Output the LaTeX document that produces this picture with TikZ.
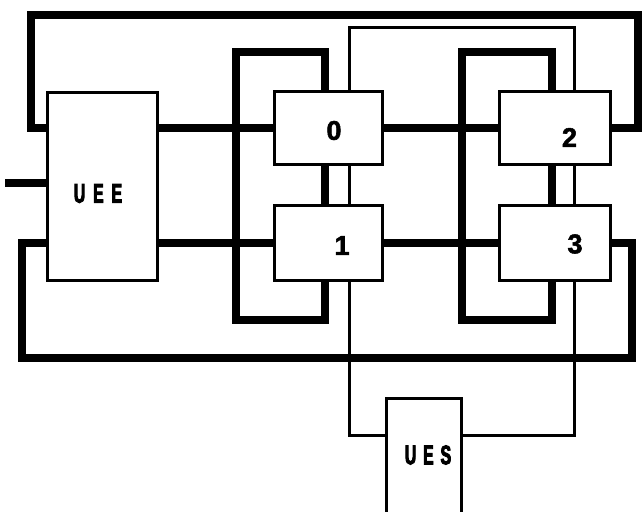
\documentclass[tikz,border=0pt]{standalone}
\usepackage{fontspec}
\setmainfont{Liberation Sans}[FakeBold=2]
\newfontfamily\narrowfont{Liberation Sans}[FakeStretch=0.58,FakeBold=3.5]
\usetikzlibrary{positioning,calc,backgrounds}
\tikzset{
  unit/.style={draw,line width=3pt,fill=white,inner sep=0pt},
  bus/.style={line width=8.5pt},
  wire/.style={line width=3pt},
  num/.style={font=\fontsize{27}{27}\selectfont\bfseries,inner sep=0pt},
  word/.style={font=\narrowfont\fontsize{27}{27}\selectfont\bfseries,inner sep=0pt},
}

\begin{document}
\begin{tikzpicture}[x=1pt,y=-1pt]
\path[clip,use as bounding box] (0,0) rectangle (642,511);
% units
\node[unit,minimum width=110pt,minimum height=188pt] (uee) at (102.5,186.5) {};
\node[unit,minimum width=108pt,minimum height=73pt] (b0) at (328.5,128) {};
\node[unit,minimum width=108pt,minimum height=75pt] (b1) at (328.5,243) {};
\node[unit,minimum width=111pt,minimum height=73pt] (b2) at (555,128) {};
\node[unit,minimum width=111pt,minimum height=75pt] (b3) at (555,243) {};
\node[unit,minimum width=75pt,minimum height=150pt] (ues) at (423.5,473) {};
\node[word] (tuee) at (98,193.5) {U\kern8pt E\kern8pt E};
\node[word] (tues) at (428,455) {U\kern7pt E\kern7pt S};
\node[num] (t0) at (334,130.5) {0};
\node[num] (t1) at (342,245.5) {1};
\node[num] (t2) at (569.5,137.5) {2};
\node[num] (t3) at (575,244) {3};
% wire columns and rows
\coordinate (in) at (5,183);
\coordinate (xo) at (31,0);
\coordinate (xo2) at (22,0);
\coordinate (xl) at (236,0);
\coordinate (xa) at (325,0);
\coordinate (xb) at (349,0);
\coordinate (xr) at (462,0);
\coordinate (xc) at (552,0);
\coordinate (xd) at (574,0);
\coordinate (xe2) at (632,0);
\coordinate (xe) at (638,0);
\coordinate (yt) at (0,15);
\coordinate (yu) at (0,28);
\coordinate (yl) at (0,52);
\coordinate (yb) at (0,320);
\coordinate (ybot) at (0,358);
\coordinate (yues) at (0,435);
\begin{scope}[on background layer]
% buses
\draw[bus] (in) -- (in -| uee.west);
\draw[bus] (uee.east |- b0) -- (b0.west);
\draw[bus] (uee.east |- b1) -- (b1.west);
\draw[bus] (b0.east) -- (b2.west);
\draw[bus] (b1.east) -- (b3.west);
\draw[bus] (b0.south -| xa) -- (b1.north -| xa);
\draw[bus] (b2.south -| xc) -- (b3.north -| xc);
\draw[bus] (b0.north -| xa) -- (xa |- yl) -- (xl |- yl) -- (xl |- yb) -- (xa |- yb) -- (b1.south -| xa);
\draw[bus] (b2.north -| xc) -- (xc |- yl) -- (xr |- yl) -- (xr |- yb) -- (xc |- yb) -- (b3.south -| xc);
\draw[bus] (b2.east) -- (xe |- b2) -- (xe |- yt) -- (xo |- yt) -- (xo |- b0) -- (uee.west |- b0);
\draw[bus] (b3.east) -- (xe2 |- b3) -- (xe2 |- ybot) -- (xo2 |- ybot) -- (xo2 |- b3) -- (uee.west |- b3);
% single lines
\draw[wire] (b0.south -| xb) -- (b1.north -| xb);
\draw[wire] (b2.south -| xd) -- (b3.north -| xd);
\draw[wire] (b0.north -| xb) -- (xb |- yu) -- (xd |- yu) -- (b2.north -| xd);
\draw[wire] (b1.south -| xb) -- (xb |- yues) -- (ues.west |- yues);
\draw[wire] (b3.south -| xd) -- (xd |- yues) -- (ues.east |- yues);
\end{scope}
\end{tikzpicture}
\end{document}
